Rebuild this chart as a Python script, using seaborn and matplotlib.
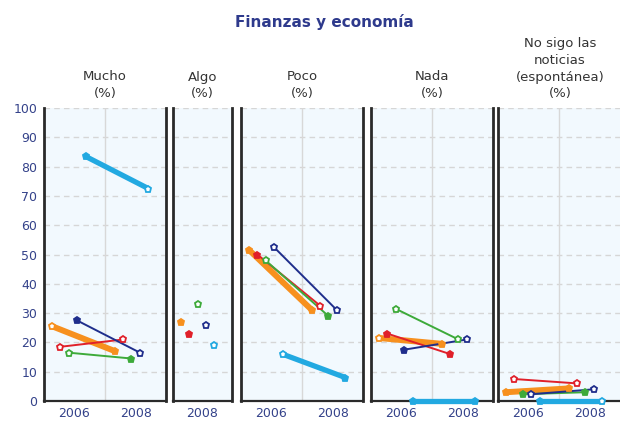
import numpy as np
import pandas as pd
import matplotlib
matplotlib.use("Agg")
import matplotlib.pyplot as plt
import seaborn as sns

# ---------------- data ----------------
title = "Finanzas y economía"
panel_labels = ["Mucho\n(%)", "Algo\n(%)", "Poco\n(%)", "Nada\n(%)",
                "No sigo las\nnoticias\n(espontánea)\n(%)"]
series = ["Serie 1", "Serie 2", "Serie 3", "Serie 4", "Serie 5"]
years_multi = [2006, 2008]
years_algo = [2008]
xtick_labels_multi = ["2006", "2008"]
xtick_labels_algo = ["2008"]
ytick_values = [0, 10, 20, 30, 40, 50, 60, 70, 80, 90, 100]

mucho_2006 = [25.5, 18.5, 16.5, 27.5, 83.5]
mucho_2008 = [17.0, 21.0, 14.5, 16.5, 72.5]
algo_2008 = [27.0, 23.0, 33.0, 26.0, 19.0]
poco_2006 = [51.5, 50.0, 48.0, 52.5, 16.0]
poco_2008 = [31.0, 32.5, 29.0, 31.0, 8.0]
nada_2006 = [21.5, 23.0, 31.5, 17.5, 0.0]
nada_2008 = [19.5, 16.0, 21.0, 21.0, 0.0]
nosigo_2006 = [3.0, 7.5, 2.3, 2.3, 0.0]
nosigo_2008 = [4.3, 6.0, 3.0, 4.0, 0.0]

panel_values = [
    [mucho_2006, mucho_2008],
    [algo_2008],
    [poco_2006, poco_2008],
    [nada_2006, nada_2008],
    [nosigo_2006, nosigo_2008],
]
panel_years = [years_multi, years_algo, years_multi, years_multi, years_multi]

rows = []
for p, (vals, yrs) in enumerate(zip(panel_values, panel_years)):
    for yi, yr in enumerate(yrs):
        for si, s in enumerate(series):
            rows.append(dict(panel=p, series=s, year=yr, value=vals[yi][si]))
df = pd.DataFrame(rows)

# ---------------- style ----------------
colors = {"Serie 1": "#F7901E", "Serie 2": "#E0202A", "Serie 3": "#3DAA3A",
          "Serie 4": "#1F2E8C", "Serie 5": "#22A9E1"}
offsets = {"Serie 1": -0.68, "Serie 2": -0.42, "Serie 3": -0.16,
           "Serie 4": 0.11, "Serie 5": 0.38}
widths = {"Serie 1": 4.3, "Serie 2": 1.4, "Serie 3": 1.4, "Serie 4": 1.4, "Serie 5": 3.8}
# filled (True) / open (False) markers per panel, per series, per point
fills = [
    {"Serie 1": [False, True], "Serie 2": [False, False], "Serie 3": [False, True],
     "Serie 4": [True, False], "Serie 5": [True, False]},
    {"Serie 1": [True], "Serie 2": [True], "Serie 3": [False],
     "Serie 4": [False], "Serie 5": [False]},
    {"Serie 1": [True, True], "Serie 2": [True, False], "Serie 3": [False, True],
     "Serie 4": [False, False], "Serie 5": [False, True]},
    {"Serie 1": [False, True], "Serie 2": [True, True], "Serie 3": [False, False],
     "Serie 4": [True, False], "Serie 5": [True, True]},
    {"Serie 1": [True, True], "Serie 2": [False, False], "Serie 3": [True, True],
     "Serie 4": [False, False], "Serie 5": [True, False]},
]

W, H = 620, 423
panel_px = [(44, 122), (173, 59), (241, 122), (371, 122), (498, 124)]
ax_bottom = (H - 401) / H
ax_height = (401 - 108) / H

sns.set_theme(style="white")
plt.rcParams["font.family"] = ["DejaVu Sans"]

fig = plt.figure(figsize=(W / 100, H / 100), dpi=100)
tick_color = "#34428A"
bg = "#F2F9FE"

for p in range(5):
    x0, w = panel_px[p]
    ax = fig.add_axes([x0 / W, ax_bottom, w / W, ax_height])
    ax.set_facecolor(bg)
    sub = df[df.panel == p].copy()
    sub["x"] = sub["year"] + sub["series"].map(offsets)

    # grid
    for yv in ytick_values[1:]:
        ax.axhline(yv, color="#D6D6D6", lw=1.0, ls=(0, (4, 3)), zorder=0)
    if p == 1:
        ax.set_xlim(2007.05, 2008.95)
        ax.set_xticks(years_algo)
        ax.set_xticklabels(xtick_labels_algo)
    else:
        ax.set_xlim(2005.06, 2008.94 + (0.06 if p == 4 else 0))
        ax.axvline(2007, color="#D8D8D8", lw=1.0, zorder=0)
        ax.set_xticks(years_multi)
        ax.set_xticklabels(xtick_labels_multi)
    ax.set_ylim(0, 100)

    for s in series:
        ss = sub[sub.series == s].sort_values("x")
        if len(ss) > 1:
            sns.lineplot(data=ss, x="x", y="value", ax=ax, color=colors[s],
                         lw=widths[s], legend=False, clip_on=False,
                         solid_capstyle="round", zorder=3)
        for (xv, yv), f in zip(ss[["x", "value"]].values, fills[p][s]):
            ax.plot([xv], [yv], marker="p", ms=5.0, mew=1.3,
                    mec=colors[s], mfc=colors[s] if f else "white",
                    ls="none", clip_on=False, zorder=4)

    ax.set_xlabel("")
    ax.set_ylabel("")
    for side in ["left", "right"]:
        ax.spines[side].set_visible(True)
        ax.spines[side].set_color("#2A2A2A")
        ax.spines[side].set_linewidth(2.0)
    ax.spines["bottom"].set_color("#2A2A2A")
    ax.spines["bottom"].set_linewidth(1.6)
    ax.spines["top"].set_visible(False)
    ax.tick_params(axis="x", length=0, pad=4, labelsize=9, labelcolor=tick_color)
    if p == 0:
        ax.set_yticks(ytick_values)
        ax.tick_params(axis="y", length=0, pad=5, labelsize=9, labelcolor=tick_color)
    else:
        ax.set_yticks([])

    fig.text((x0 + w / 2) / W, 1 - 100 / H, panel_labels[p], ha="center",
             va="bottom", fontsize=9.5, color="#333333", linespacing=1.35)

fig.text(324 / W, 1 - 22 / H, title, ha="center", va="center", fontsize=11,
         fontweight="bold", color="#2E3A8C")

fig.savefig("out.png", dpi=100)
